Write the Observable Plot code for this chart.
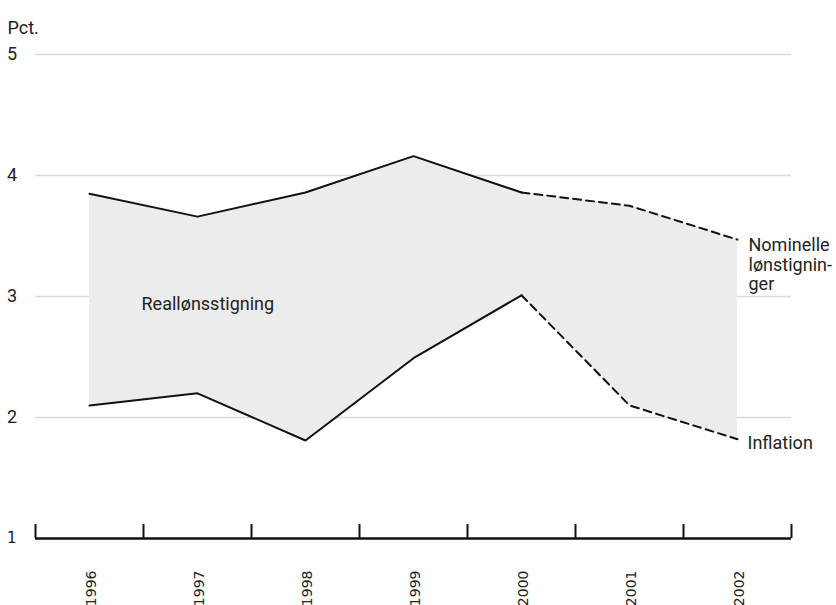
<!DOCTYPE html>
<html><head><meta charset="utf-8">
<script src="https://cdn.jsdelivr.net/npm/d3@7"></script>
<script src="https://cdn.jsdelivr.net/npm/@observablehq/plot@0.6"></script>
<style>body{margin:0;background:#fff}</style>
</head><body><div id="chart"></div>
<script>
const years = [1996, 1997, 1998, 1999, 2000, 2001, 2002];
const nominal = [3.85, 3.66, 3.86, 4.16, 3.86, 3.75, 3.47];
const inflation = [2.10, 2.20, 1.81, 2.49, 3.01, 2.10, 1.82];
const yTicks = [2, 3, 4, 5];
const yBase = [1];
const forecastStart = 2000;
const labelReal = "Reallønsstigning";
const labelNominal = "Nominelle\nlønstignin-\nger";
const labelInflation = "Inflation";
const unitLabel = "Pct.";

const data = years.map((year, i) => ({year, nominal: nominal[i], inflation: inflation[i]}));
const actual = data.filter(d => d.year <= forecastStart);
const forecast = data.filter(d => d.year >= forecastStart);
const bounds = [...years.map(y => y - 0.5), years[years.length - 1] + 0.5];
const first = data[0];
const last = data[data.length - 1];

const font = "Roboto, 'Noto Sans', sans-serif";
const ink = "#111";
const textInk = "#222";

const chart = Plot.plot({
  width: 836, height: 605,
  marginLeft: 35, marginRight: 45, marginTop: 54, marginBottom: 67,
  style: {fontFamily: font, background: "#fff", color: textInk, overflow: "visible"},
  x: {type: "linear", domain: [bounds[0], bounds[bounds.length - 1]]},
  y: {domain: [1, 5]},
  marks: [
    Plot.gridY(yTicks, {stroke: "#d9d9d9", strokeOpacity: 1, strokeWidth: 1.5}),
    Plot.areaY(data, {x: "year", y1: "inflation", y2: "nominal", fill: "#ececec"}),
    Plot.line(actual, {x: "year", y: "nominal", stroke: ink, strokeWidth: 2}),
    Plot.line(actual, {x: "year", y: "inflation", stroke: ink, strokeWidth: 2}),
    Plot.line(forecast, {x: "year", y: "nominal", stroke: ink, strokeWidth: 2, strokeDasharray: "8,5"}),
    Plot.line(forecast, {x: "year", y: "inflation", stroke: ink, strokeWidth: 2, strokeDasharray: "8,5"}),
    Plot.ruleY(yBase, {stroke: ink, strokeWidth: 2.5}),
    Plot.tickX(bounds, {x: d => d, stroke: ink, strokeWidth: 2, insetTop: 470}),
    Plot.axisX(years, {tickSize: 0, tickRotate: -90, tickPadding: 32, dx: 2, fontSize: 14, tickFormat: d => String(d), label: null, fill: textInk}),
    Plot.axisY(yTicks, {tickSize: 0, tickPadding: 18.5, fontSize: 18, tickFormat: d => String(d), label: null, fill: textInk}),
    Plot.axisY(yBase, {tickSize: 0, tickPadding: 19, fontSize: 14, tickFormat: d => String(d), label: null, fill: textInk}),
    Plot.text([unitLabel], {frameAnchor: "top-left", dx: -28, dy: -33, textAnchor: "start", fontSize: 18, fill: textInk}),
    Plot.text([first], {x: "year", y: d => (d.nominal + d.inflation) / 2, text: () => labelReal, textAnchor: "start", dx: 52, dy: 5, fontSize: 18, fill: textInk}),
    Plot.text([last], {x: "year", y: "nominal", text: () => labelNominal, textAnchor: "start", lineAnchor: "top", dx: 11, dy: -2, lineHeight: 1.08, fontSize: 18, fill: textInk}),
    Plot.text([last], {x: "year", y: "inflation", text: () => labelInflation, textAnchor: "start", dx: 10, dy: 3.5, fontSize: 18, fill: textInk})
  ]
});
const yearStrings = years.map(String);
d3.select(chart).selectAll("text").each(function() {
  const t = this.textContent.trim();
  const s = d3.select(this);
  if (yearStrings.includes(t)) {
    s.style("font-family", "'DejaVu Sans', sans-serif").style("font-size", "14px");
  } else if (t === "1") {
    s.style("font-family", "'DejaVu Sans', sans-serif").style("font-size", "15px");
  } else if (["2", "3", "4", "5"].includes(t)) {
    s.style("font-size", "18px");
  }
});
document.getElementById("chart").append(chart);
</script>
</body></html>
